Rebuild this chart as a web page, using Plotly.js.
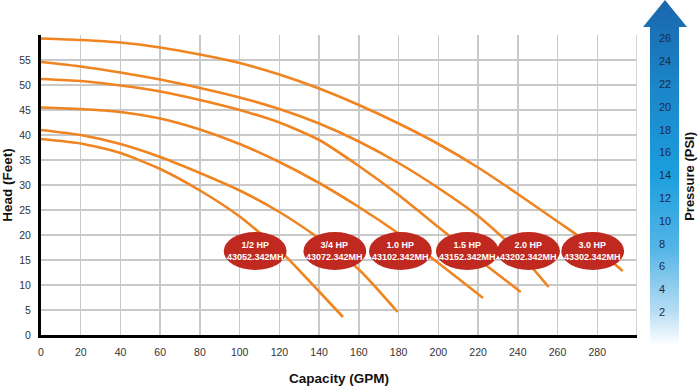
<!DOCTYPE html>
<html>
<head>
<meta charset="utf-8">
<script src="https://cdn.plot.ly/plotly-3.0.1.min.js"></script>
<style>
html,body{margin:0;padding:0;background:#fff;}
#chart{width:700px;height:386px;}
</style>
</head>
<body>
<div id="chart"></div>
<script>
// ---- data ----
const seriesNames = ["1/2 HP", "3/4 HP", "1.0 HP", "1.5 HP", "2.0 HP", "3.0 HP"];
const modelNumbers = ["43052.342MH", "43072.342MH", "43102.342MH", "43152.342MH", "43202.342MH", "43302.342MH"];

const gpm_half = [0, 20, 40, 60, 80, 100, 120, 140, 152];
const head_half = [39.2, 38.3, 36.4, 33.2, 28.9, 23.7, 17.0, 8.7, 3.6];

const gpm_34 = [0, 20, 40, 60, 80, 100, 120, 140, 160, 179.5];
const head_34 = [41.0, 40.0, 38.2, 35.6, 32.4, 28.9, 24.6, 19.3, 13.1, 4.6];

const gpm_10 = [0, 20, 40, 60, 80, 100, 120, 140, 160, 180, 200, 222.5];
const head_10 = [45.5, 45.2, 44.6, 43.3, 41.1, 38.2, 34.6, 30.4, 25.6, 20.3, 14.4, 7.4];

const gpm_15 = [0, 20, 40, 60, 80, 100, 120, 140, 160, 180, 200, 220, 241.5];
const head_15 = [51.2, 50.8, 49.9, 48.7, 47.0, 45.0, 42.5, 39.0, 33.8, 28.0, 21.6, 15.2, 8.6];

const gpm_20 = [0, 20, 40, 60, 80, 100, 120, 140, 160, 180, 200, 220, 240, 255.5];
const head_20 = [54.6, 53.7, 52.5, 51.1, 49.4, 47.5, 45.2, 42.3, 38.7, 34.4, 29.4, 23.8, 16.7, 9.6];

const gpm_30 = [0, 20, 40, 60, 80, 100, 120, 140, 160, 180, 200, 220, 240, 260, 280, 292.8];
const head_30 = [59.3, 59.0, 58.5, 57.5, 56.1, 54.4, 52.1, 49.3, 46.0, 42.3, 38.2, 33.5, 28.2, 22.7, 17.1, 12.8];

const xTicks = [0, 20, 40, 60, 80, 100, 120, 140, 160, 180, 200, 220, 240, 260, 280];
const yTicks = [0, 5, 10, 15, 20, 25, 30, 35, 40, 45, 50, 55];
const psiTicks = [2, 4, 6, 8, 10, 12, 14, 16, 18, 20, 22, 24, 26];

// label badge anchor points (GPM, feet)
const badgeX = [107.8, 147.9, 180.9, 214.6, 245.4, 277.7];
const badgeY = [16.8, 16.8, 16.8, 16.8, 16.8, 16.8];

// ---- chart ----
const FONT = "'Liberation Sans', Arial, sans-serif";
const ORANGE = "#ef8420";
const BADGE = "#c0291f";

const xs = [gpm_half, gpm_34, gpm_10, gpm_15, gpm_20, gpm_30];
const ys = [head_half, head_34, head_10, head_15, head_20, head_30];

const traces = xs.map((x, i) => ({
  x: x, y: ys[i], type: "scatter", mode: "lines", name: seriesNames[i],
  line: {color: ORANGE, width: 2.6, shape: "spline", smoothing: 0.6},
  hoverinfo: "x+y", showlegend: false
}));
// invisible trace to carry the pressure axis
traces.push({x: [0], y: [0], yaxis: "y2", type: "scatter", mode: "markers",
  marker: {opacity: 0}, showlegend: false, hoverinfo: "skip"});

const BW = 15.8, BH = 3.8; // half-width (GPM) / half-height (feet) of badges
const shapes = [
  {type: "line", xref: "x", yref: "paper", x0: 300, x1: 300, y0: 0, y1: 1,
   line: {color: "#c9c9c9", width: 1.5}, layer: "below"}
];
const annotations = [];
badgeX.forEach((bx, i) => {
  shapes.push({type: "circle", xref: "x", yref: "y",
    x0: bx - BW, x1: bx + BW, y0: badgeY[i] - BH, y1: badgeY[i] + BH,
    fillcolor: BADGE, line: {width: 0}, layer: "above"});
  annotations.push({x: bx, y: badgeY[i], xref: "x", yref: "y", showarrow: false,
    text: "<b>" + seriesNames[i] + "</b><br><b>" + modelNumbers[i] + "</b>",
    font: {family: FONT, size: 9, color: "#ffffff"}, align: "center"});
});
annotations.push({xref: "paper", yref: "paper", x: 1.087, y: 0.53, showarrow: false,
  text: "<b>Pressure (PSI)</b>", textangle: -90,
  font: {family: FONT, size: 13, color: "#111111"}, xanchor: "center", yanchor: "middle"});

const svg = '<svg xmlns="http://www.w3.org/2000/svg" width="50" height="345" viewBox="0 0 50 345" preserveAspectRatio="none">' +
  '<defs><linearGradient id="g" x1="0" y1="0" x2="0" y2="1">' +
  '<stop offset="0" stop-color="#1a66ad"/>' +
  '<stop offset="0.25" stop-color="#1b86c9"/>' +
  '<stop offset="0.5" stop-color="#1b9edd"/>' +
  '<stop offset="0.72" stop-color="#53b5e6"/>' +
  '<stop offset="0.9" stop-color="#b6dcf3"/>' +
  '<stop offset="1" stop-color="#ffffff"/>' +
  '</linearGradient></defs>' +
  '<path d="M25 0 L47 27 L39 27 L39 345 L10 345 L10 27 L3 27 Z" fill="url(#g)"/></svg>';
const svgURI = "data:image/svg+xml;charset=utf-8," + encodeURIComponent(svg);

const L = 41, R = 63, T = 35, B = 51;
const PW = 700 - L - R, PH = 386 - T - B;

const layout = {
  width: 700, height: 386,
  margin: {l: L, r: R, t: T, b: B, pad: 0},
  paper_bgcolor: "#ffffff", plot_bgcolor: "#ffffff",
  font: {family: FONT, size: 10.5, color: "#333333"},
  showlegend: false,
  xaxis: {
    range: [0, 300], tickvals: xTicks, ticktext: xTicks.map(String),
    showgrid: true, gridcolor: "#c9c9c9", gridwidth: 1.5,
    showline: true, linecolor: "#000000", linewidth: 3,
    zeroline: false, ticks: "", ticklabelstandoff: 5,
    tickfont: {family: FONT, size: 10.5, color: "#333333"},
    title: {text: "<b>Capacity (GPM)</b>", font: {family: FONT, size: 13.5, color: "#111111"}, standoff: 22},
    fixedrange: true
  },
  yaxis: {
    range: [0, 60], tickvals: yTicks, ticktext: yTicks.map(String),
    showgrid: true, gridcolor: "#c9c9c9", gridwidth: 1.5,
    showline: true, linecolor: "#000000", linewidth: 3,
    zeroline: false, ticks: "", ticklabelstandoff: 5,
    tickfont: {family: FONT, size: 10.5, color: "#333333"},
    title: {text: "<b>Head (Feet)</b>", font: {family: FONT, size: 13.5, color: "#111111"}, standoff: 9},
    fixedrange: true
  },
  yaxis2: {
    overlaying: "y", side: "right", range: [0, 26.3],
    tickvals: psiTicks, ticktext: psiTicks.map(String),
    showgrid: false, zeroline: false, showline: false, ticks: "",
    ticklabelstandoff: 21,
    tickfont: {family: FONT, size: 11, color: "#1c2a48"},
    fixedrange: true
  },
  shapes: shapes,
  annotations: annotations,
  images: [{
    source: svgURI, xref: "paper", yref: "paper",
    x: (640 - L) / PW, y: (386 - B) / PH, sizex: 50 / PW, sizey: 345 / PH,
    xanchor: "left", yanchor: "top", sizing: "stretch", layer: "below"
  }]
};

Plotly.newPlot("chart", traces, layout, {displayModeBar: false, staticPlot: true});
</script>
</body>
</html>
